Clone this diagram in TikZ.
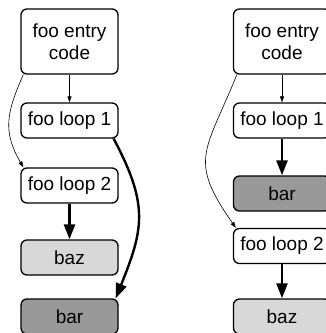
\documentclass[tikz,border=0pt]{standalone}
\usepackage{fontspec}
\setmainfont{Liberation Sans}
\usetikzlibrary{arrows.meta, positioning, calc}
\definecolor{colBar}{RGB}{153, 153, 153}
\definecolor{colBaz}{RGB}{216, 216, 216}

\begin{document}
\begin{tikzpicture}[x=1pt, y=-1pt,
    box/.style={draw, line width=1.3pt, rounded corners=6pt, fill=white,
        minimum width=97pt, minimum height=35pt, inner sep=0pt, align=center,
        font=\fontsize{19}{22}\selectfont},
    thin/.style={line width=0.6pt, -{Triangle[length=6pt, width=4pt]}},
    thick/.style={line width=2.4pt, -{Triangle[length=15pt, width=11pt]}}]
    \useasboundingbox (0, 0) rectangle (325, 333);

    % linke Spalte
    \node[box, minimum height=65pt] (entryL) at (69.5, 41.5) {foo entry\\code};
    \node[box] (loopAL) at (69.5, 120.5) {foo loop 1};
    \node[box] (loopBL) at (69.5, 185.5) {foo loop 2};
    \node[box, fill=colBaz] (bazL) at (69.5, 257.5) {baz};
    \node[box, fill=colBar] (barL) at (69.5, 316.5) {bar};

    \draw[thin] (entryL) -- (loopAL);
    \draw[thin] ([xshift=3pt]entryL.south west) to[out=-114, in=120, looseness=1.15] ([xshift=3pt]loopBL.north west);
    \draw[thick] (loopBL) -- (bazL);
    \draw[thick] ([xshift=-5pt]loopAL.south east) to[out=-62, in=68, looseness=1.2] ([xshift=-3pt]barL.north east);

    % rechte Spalte
    \node[box, minimum height=65pt] (entryR) at (282, 41.5) {foo entry\\code};
    \node[box] (loopAR) at (282, 120.5) {foo loop 1};
    \node[box, fill=colBar] (barR) at (282, 193.5) {bar};
    \node[box] (loopBR) at (282, 246) {foo loop 2};
    \node[box, fill=colBaz] (bazR) at (282, 316.5) {baz};

    \draw[thin] (entryR) -- (loopAR);
    \draw[thick] (loopAR) -- (barR);
    \draw[thin] ([xshift=4pt]entryR.south west) to[out=-112, in=125, looseness=1.4] ([xshift=3pt]loopBR.north west);
    \draw[thick] (loopBR) -- (bazR);
\end{tikzpicture}
\end{document}
